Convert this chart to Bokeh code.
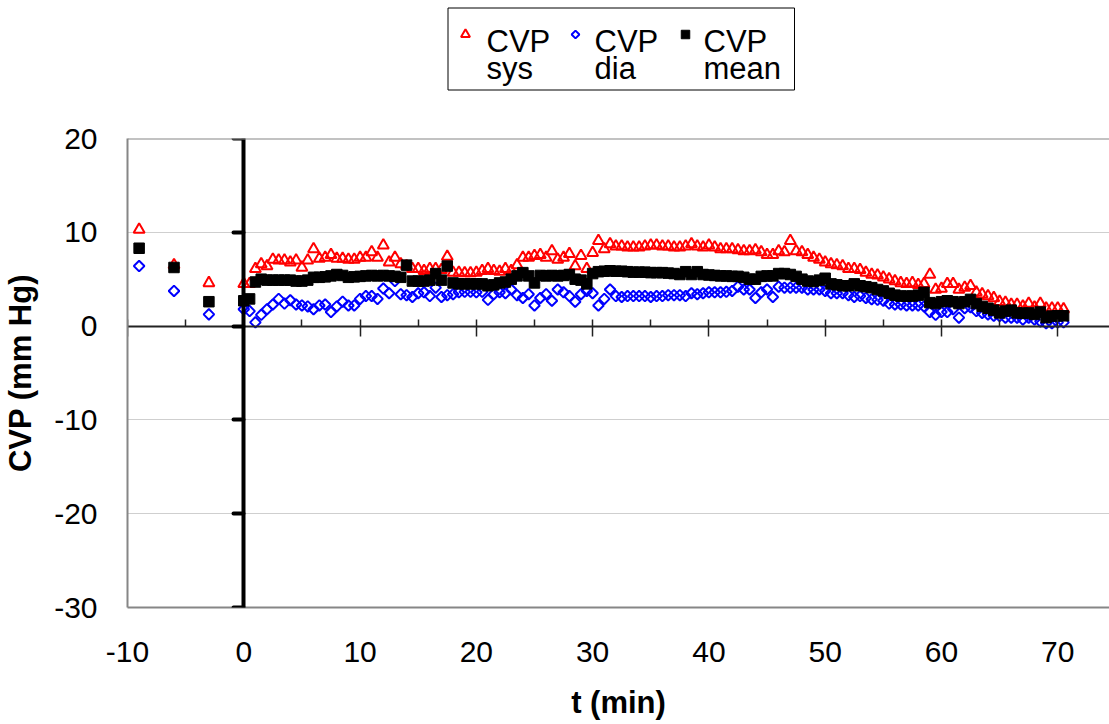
import math
from bokeh.plotting import figure
from bokeh.layouts import column
from bokeh.core.properties import value
from bokeh.models import (LinearAxis, Range1d, FixedTicker, Span, ColumnDataSource)
from bokeh.embed import file_html
from bokeh.resources import INLINE

# ---------------- data ----------------
time_min = [-9, -6, -3,
            0, 0.5, 1, 1.5, 2, 2.5, 3, 3.5, 4, 4.5,
            5, 5.5, 6, 6.5, 7, 7.5, 8, 8.5, 9, 9.5,
            10, 10.5, 11, 11.5, 12, 12.5, 13, 13.5, 14, 14.5,
            15, 15.5, 16, 16.5, 17, 17.5, 18, 18.5, 19, 19.5,
            20, 20.5, 21, 21.5, 22, 22.5, 23, 23.5, 24, 24.5,
            25, 25.5, 26, 26.5, 27, 27.5, 28, 28.5, 29, 29.5,
            30, 30.5, 31, 31.5, 32, 32.5, 33, 33.5, 34, 34.5,
            35, 35.5, 36, 36.5, 37, 37.5, 38, 38.5, 39, 39.5,
            40, 40.5, 41, 41.5, 42, 42.5, 43, 43.5, 44, 44.5,
            45, 45.5, 46, 46.5, 47, 47.5, 48, 48.5, 49, 49.5,
            50, 50.5, 51, 51.5, 52, 52.5, 53, 53.5, 54, 54.5,
            55, 55.5, 56, 56.5, 57, 57.5, 58, 58.5, 59, 59.5,
            60, 60.5, 61, 61.5, 62, 62.5, 63, 63.5, 64, 64.5,
            65, 65.5, 66, 66.5, 67, 67.5, 68, 68.5, 69, 69.5,
            70, 70.5]

cvp_sys = [10.3, 6.5, 4.6,
           4.5, 4.5, 6.1, 6.6, 6.4, 7.1, 7.0, 7.0, 6.8, 7.0,
           6.25, 7.0, 8.2, 7.2, 7.3, 7.6, 7.2, 7.2, 7.1, 7.1,
           7.3, 7.3, 7.9, 7.3, 8.6, 6.8, 7.3, 6.6, 6.4, 6.1,
           6.1, 5.9, 6.1, 6.1, 6.0, 7.4, 5.7, 5.7, 5.65, 5.65,
           5.7, 5.9, 6.1, 5.9, 5.8, 6.1, 5.9, 6.5, 7.3, 7.3,
           7.5, 7.6, 7.3, 8.0, 7.1, 7.3, 7.7, 6.4, 7.5, 6.1,
           7.8, 9.1, 8.2, 8.75, 8.5, 8.5, 8.4, 8.4, 8.4, 8.5,
           8.6, 8.6, 8.5, 8.5, 8.4, 8.4, 8.5, 8.75, 8.5, 8.4,
           8.6, 8.4, 8.2, 8.2, 8.2, 8.1, 8.0, 8.0, 8.1, 7.9,
           7.6, 7.6, 8.0, 7.9, 9.1, 8.0, 7.9, 7.6, 7.3, 7.1,
           6.8, 6.6, 6.5, 6.4, 6.1, 6.1, 6.0, 5.7, 5.5, 5.4,
           5.2, 5.0, 4.8, 4.6, 4.5, 4.6, 4.4, 4.5, 5.5, 3.9,
           4.0, 4.5, 4.5, 3.9, 4.1, 4.3, 3.6, 3.4, 3.2, 3.0,
           2.6, 2.5, 2.3, 2.3, 2.1, 2.4, 2.0, 2.4, 1.9, 1.9,
           1.9, 1.8]

cvp_dia = [6.4, 3.75, 1.25,
           1.8, 1.6, 0.4, 1.2, 1.8, 2.3, 2.9, 2.4, 2.75, 2.3,
           2.2, 2.1, 1.8, 2.2, 2.3, 1.5, 2.1, 2.6, 2.2, 2.2,
           2.9, 3.2, 3.2, 2.9, 4.0, 3.5, 4.8, 3.4, 3.3, 3.1,
           3.5, 3.6, 3.2, 4.1, 3.1, 3.3, 3.4, 3.6, 3.65, 3.65,
           3.6, 3.65, 2.8, 3.4, 3.6, 3.5, 3.9, 3.3, 3.0, 3.4,
           2.2, 3.0, 3.4, 2.7, 3.9, 3.6, 3.2, 2.6, 3.4, 3.75,
           3.5, 2.2, 2.9, 3.9, 3.2, 3.1, 3.2, 3.2, 3.2, 3.2,
           3.1, 3.2, 3.2, 3.3, 3.3, 3.3, 3.2, 3.5, 3.4, 3.5,
           3.6, 3.6, 3.6, 3.65, 3.75, 4.2, 3.9, 3.9, 3.0, 3.6,
           3.9, 3.1, 4.2, 4.1, 4.1, 4.1, 4.1, 3.9, 3.9, 3.9,
           3.75, 3.5, 3.5, 3.5, 3.3, 3.1, 3.2, 3.0, 2.86, 2.8,
           2.7, 2.4, 2.3, 2.3, 2.2, 2.2, 2.2, 2.1, 1.5, 1.2,
           1.5, 1.5, 1.8, 0.9, 1.9, 2.0, 1.6, 1.4, 1.25, 1.1,
           1.07, 0.9, 0.9, 0.9, 0.7, 0.9, 0.7, 0.5, 0.3, 0.3,
           0.4, 0.4]

cvp_mean = [8.3, 6.25, 2.6,
            2.7, 2.9, 4.7, 5.0, 4.9, 4.9, 4.9, 4.9, 4.9, 4.8,
            4.8, 4.9, 5.2, 5.2, 5.25, 5.35, 5.5, 5.4, 5.2, 5.25,
            5.3, 5.35, 5.4, 5.35, 5.4, 5.35, 5.3, 5.2, 6.5, 4.8,
            4.8, 4.8, 4.9, 5.6, 4.9, 6.4, 4.6, 4.5, 4.5, 4.5,
            4.5, 4.5, 4.3, 4.4, 4.6, 4.7, 5.0, 5.35, 5.7, 5.35,
            4.6, 5.4, 5.35, 5.4, 5.35, 5.4, 5.5, 5.0, 4.9, 4.5,
            5.6, 5.8, 5.85, 5.9, 5.85, 5.85, 5.8, 5.75, 5.75, 5.75,
            5.7, 5.7, 5.7, 5.65, 5.6, 5.5, 5.8, 5.5, 5.8, 5.5,
            5.45, 5.4, 5.35, 5.35, 5.3, 5.3, 5.2, 5.0, 5.0, 5.3,
            5.35, 5.35, 5.6, 5.6, 5.5, 5.3, 5.0, 4.8, 4.75, 4.9,
            5.1, 4.5, 4.4, 4.3, 4.3, 4.5, 4.3, 4.2, 4.1, 3.9,
            3.75, 3.5, 3.3, 3.2, 3.2, 3.2, 3.3, 3.6, 2.5, 2.4,
            2.6, 2.7, 2.6, 2.4, 2.6, 2.85, 2.4, 2.1, 1.9, 1.7,
            1.4, 1.6, 1.7, 1.4, 1.36, 1.4, 1.25, 1.5, 0.9, 1.07,
            1.1, 1.1]

x_ticks = [-10, 0, 10, 20, 30, 40, 50, 60, 70]
x_minor_ticks = [-5, 5, 15, 25, 35, 45, 55, 65]
y_ticks = [-30, -20, -10, 0, 10, 20]

legend_line1 = ["CVP", "CVP", "CVP"]
legend_line2 = ["sys", "dia", "mean"]
x_title = "t (min)"
y_title = "CVP (mm Hg)"

# ---------------- styling ----------------
FONT = "Liberation Sans"
GREY = "#868686"
SYS_STYLE = dict(line_color="#ff0000", line_width=2, fill_color=None)
DIA_STYLE = dict(line_color="#0000ff", line_width=2, fill_color=None)
MEAN_STYLE = dict(line_color="black", fill_color="black")

LEG_H = 96
FRAME_L = 127          # left edge of the plot area (page pixels)
PAGE_W = 1109

# ---------------- legend strip (page-pixel coordinates) ----------------
leg = figure(width=PAGE_W, height=LEG_H,
             x_range=Range1d(FRAME_L, PAGE_W), y_range=Range1d(LEG_H, 0),
             output_backend="svg", toolbar_location=None,
             min_border=0, outline_line_color=None,
             background_fill_color="white", border_fill_color="white")
leg.axis.visible = False
leg.grid.visible = False

box = dict(left=447.5, right=794, top=7.5, bottom=89.5)
leg.quad(left=[box["left"]], right=[box["right"]], top=[box["top"]], bottom=[box["bottom"]],
         fill_color="white", line_color="black", line_width=1)

key_x = [465, 575, 685]     # marker centres
label_x = [486, 594, 703]   # text starts
key_y = 34
leg.scatter([key_x[0]], [key_y], marker="triangle", size=9, **SYS_STYLE)
leg.scatter([key_x[1]], [key_y], marker="square", angle=math.pi / 4, size=5.5, **DIA_STYLE)
leg.scatter([key_x[2]], [key_y], marker="square", size=8.5, **MEAN_STYLE)

leg.text(x=label_x, y=[41] * 3, text=legend_line1,
         text_font=value(FONT), text_font_size="31px", text_color="black",
         text_baseline="alphabetic", text_align="left")
leg.text(x=label_x, y=[68] * 3, text=legend_line2,
         text_font=value(FONT), text_font_size="31px", text_color="black",
         text_baseline="alphabetic", text_align="left")

# ---------------- main chart ----------------
src = ColumnDataSource(dict(t=time_min, sys=cvp_sys, dia=cvp_dia, mean=cvp_mean))

p = figure(width=PAGE_W, height=724 - LEG_H,
           x_range=Range1d(-10, 74.45), y_range=Range1d(-30, 20),
           output_backend="svg", toolbar_location=None,
           min_border_left=FRAME_L, min_border_right=0,
           min_border_top=138 - LEG_H, min_border_bottom=117,
           outline_line_color=None, background_fill_color="white",
           border_fill_color="white")

for ax in (p.xaxis[0], p.yaxis[0]):
    ax.axis_line_color = GREY
    ax.axis_line_width = 2
    ax.major_tick_line_color = None
    ax.minor_tick_line_color = None
    ax.major_label_text_font = FONT
    ax.major_label_text_font_size = "30px"
    ax.major_label_text_color = "black"
    ax.axis_label_text_font = FONT
    ax.axis_label_text_font_size = "31px"
    ax.axis_label_text_font_style = "bold"
    ax.axis_label_text_color = "black"

p.xaxis[0].ticker = FixedTicker(ticks=x_ticks)
p.xaxis[0].major_label_overrides = {v: str(v) for v in x_ticks}
p.xaxis[0].major_label_standoff = 28
p.xaxis[0].axis_label = x_title
p.xaxis[0].axis_label_standoff = 20

p.yaxis[0].ticker = FixedTicker(ticks=y_ticks)
p.yaxis[0].major_label_overrides = {v: str(v) for v in y_ticks}
p.yaxis[0].major_label_standoff = 24
p.yaxis[0].axis_label = y_title
p.yaxis[0].axis_label_standoff = 13

p.xgrid.visible = False
p.ygrid.ticker = FixedTicker(ticks=y_ticks)
p.ygrid.grid_line_color = "#cfcfcf"
p.ygrid.grid_line_width = 1

p.add_layout(Span(location=20, dimension="width", line_color=GREY, line_width=2))

x0 = LinearAxis(fixed_location=0,
                ticker=FixedTicker(ticks=x_ticks, minor_ticks=x_minor_ticks),
                axis_line_color="#222222", axis_line_width=2,
                major_tick_in=7, major_tick_out=10,
                major_tick_line_color="#222222", major_tick_line_width=1.5,
                minor_tick_in=7, minor_tick_out=0,
                minor_tick_line_color="#222222", minor_tick_line_width=1.5,
                major_label_text_color=None)
p.add_layout(x0, "below")

y0 = LinearAxis(fixed_location=0,
                ticker=FixedTicker(ticks=y_ticks),
                axis_line_color="black", axis_line_width=4,
                major_tick_in=0, major_tick_out=10,
                major_tick_line_color="black", major_tick_line_width=4,
                major_tick_line_cap="round",
                minor_tick_line_color=None,
                major_label_text_color=None)
p.add_layout(y0, "left")

p.scatter("t", "sys", source=src, marker="triangle", size=11, **SYS_STYLE)
p.scatter("t", "dia", source=src, marker="square", angle=math.pi / 4, size=7.5, **DIA_STYLE)
p.scatter("t", "mean", source=src, marker="square", size=10.5, **MEAN_STYLE)

layout = column(leg, p, spacing=0)
open("out.html", "w").write(file_html(layout, INLINE))
